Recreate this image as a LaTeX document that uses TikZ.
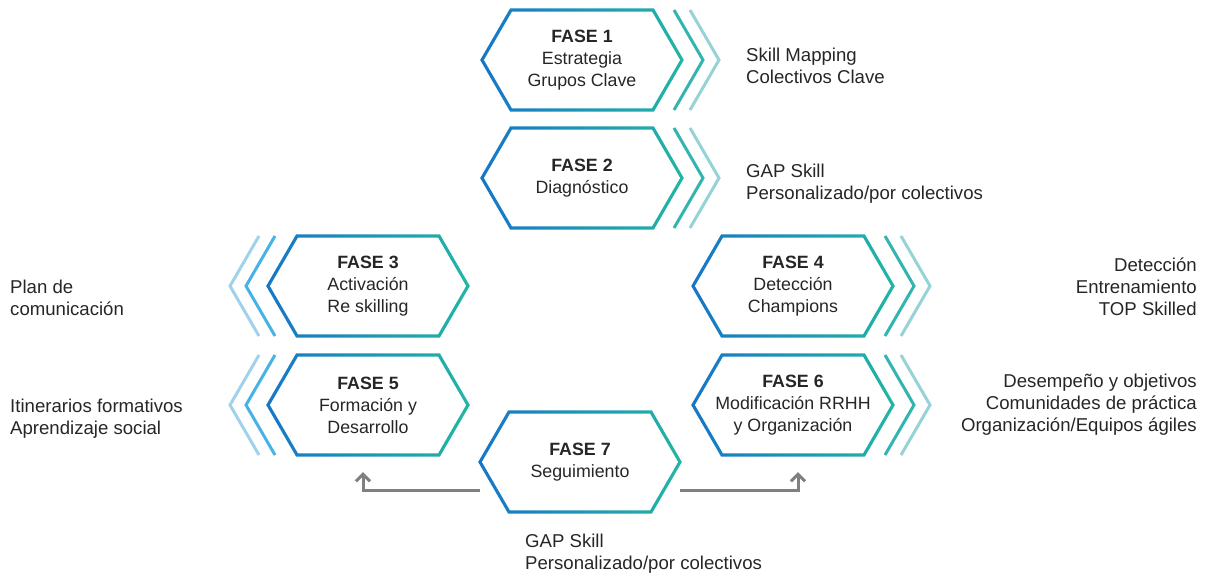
\documentclass[tikz,border=0pt]{standalone}
\usepackage{fontspec}
\setmainfont{Liberation Sans}
\usetikzlibrary{arrows.meta}
\definecolor{faseblue}{RGB}{22,118,200}
\definecolor{faseteal}{RGB}{34,182,164}
\definecolor{chevtealA}{RGB}{52,180,176}
\definecolor{chevtealB}{RGB}{150,210,214}
\definecolor{chevblueA}{RGB}{70,178,230}
\definecolor{chevblueB}{RGB}{160,210,236}
\definecolor{txtgray}{RGB}{38,38,38}
\definecolor{arrowgray}{RGB}{128,128,128}
\tikzset{
    hexring/.pic={
        \shade[left color=faseblue, right color=faseteal, even odd rule]
            (-101.8, 0) -- (-71.9, -51.6) -- (71.9, -51.6) -- (101.8, 0) -- (71.9, 51.6) -- (-71.9, 51.6) -- cycle
            (-98.2, 0) -- (-70.1, -48.4) -- (70.1, -48.4) -- (98.2, 0) -- (70.1, 48.4) -- (-70.1, 48.4) -- cycle;
    },
    chevright/.pic={
        \draw[chevtealA, chevline] (92, -50) -- (121, 0) -- (92, 50);
        \draw[chevtealB, chevline] (108, -50) -- (137, 0) -- (108, 50);
    },
    chevleft/.pic={
        \draw[chevblueA, chevline] (-93, -50) -- (-122, 0) -- (-93, 50);
        \draw[chevblueB, chevline] (-109, -50) -- (-138, 0) -- (-109, 50);
    },
    chevline/.style={line width=3pt},
    fase/.style={minimum width=200pt, minimum height=100pt, inner sep=0pt, align=center,
        text=txtgray, font=\fontsize{17.8}{22}\selectfont},
    side/.style={inner sep=0pt, text=txtgray, font=\fontsize{18.6}{22}\selectfont},
    back/.style={arrowgray, line width=3pt, -{Straight Barb[length=7pt, width=14pt]}},
}
\begin{document}
\begin{tikzpicture}[x=1pt, y=-1pt]
    \useasboundingbox (0, 0) rectangle (1206, 577);

    \node[fase] (f1) at (582, 60) {\textbf{FASE 1}\\Estrategia\\Grupos Clave};
    \node[fase] (f2) at (582, 178) {\textbf{FASE 2}\\Diagnóstico};
    \node[fase] (f3) at (368, 286) {\textbf{FASE 3}\\Activación\\Re skilling};
    \node[fase] (f4) at (793, 286) {\textbf{FASE 4}\\Detección\\Champions};
    \node[fase] (f5) at (368, 405) {\textbf{FASE 5}\\Formación y\\Desarrollo};
    \node[fase] (f6) at (793, 405) {\textbf{FASE 6}\\Modificación RRHH\\y Organización};
    \node[fase] (f7) at (580, 462) {\textbf{FASE 7}\\Seguimiento};

    \foreach \f in {f1, f2, f3, f4, f5, f6, f7}
        \pic at (\f) {hexring};
    \foreach \f in {f1, f2, f4, f6}
        \pic at (\f) {chevright};
    \foreach \f in {f3, f5}
        \pic at (\f) {chevleft};

    \node[side, anchor=west, align=left] (s1) at (746, 66) {Skill Mapping\\Colectivos Clave};
    \node[side, anchor=west, align=left] (s2) at (746, 184) {GAP Skill\\Personalizado/por colectivos};
    \node[side, anchor=west, align=left] (s3) at (10, 298) {Plan de\\comunicación};
    \node[side, anchor=east, align=right] (s4) at (1197, 287) {Detección\\Entrenamiento\\TOP Skilled};
    \node[side, anchor=west, align=left] (s5) at (10, 419) {Itinerarios formativos\\Aprendizaje social};
    \node[side, anchor=east, align=right] (s6) at (1197, 405) {Desempeño y objetivos\\Comunidades de práctica\\Organización/Equipos ágiles};
    \node[side, anchor=west, align=left] (s7) at (525, 554) {GAP Skill\\Personalizado/por colectivos};

    \draw[back] (f7.196) -| ([xshift=-5pt, yshift=-17pt]f5.south);
    \draw[back] (f7.-16) -| ([xshift=5pt, yshift=-17pt]f6.south);
\end{tikzpicture}
\end{document}
